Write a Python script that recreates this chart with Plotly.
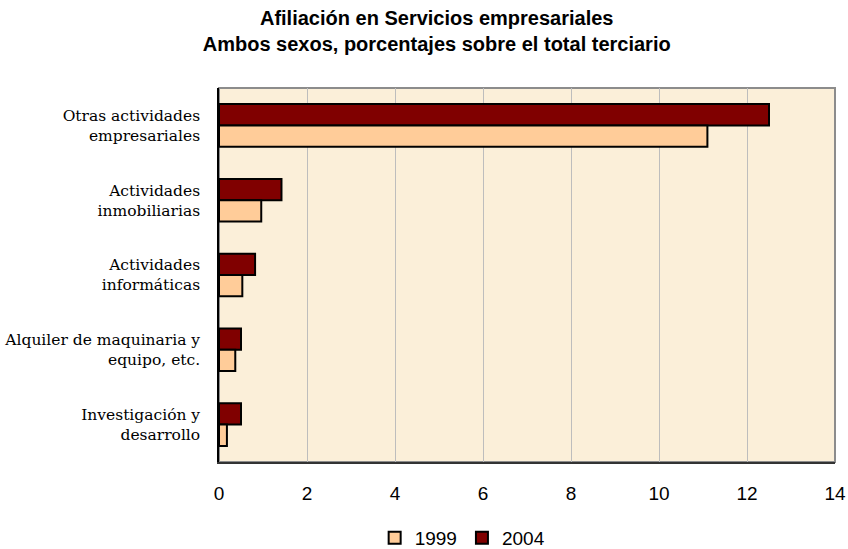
import plotly.graph_objects as go

categories = [
    "Otras actividades<br>empresariales",
    "Actividades<br>inmobiliarias",
    "Actividades<br>informáticas",
    "Alquiler de maquinaria y<br>equipo, etc.",
    "Investigación y<br>desarrollo",
]
values_1999 = [11.1, 0.96, 0.53, 0.37, 0.18]
values_2004 = [12.5, 1.42, 0.82, 0.50, 0.50]
x_ticks = [0, 2, 4, 6, 8, 10, 12, 14]

fig = go.Figure()
fig.add_trace(go.Bar(
    y=categories, x=values_2004, name="2004", orientation="h",
    marker=dict(color="#800000", line=dict(color="#000000", width=2)),
))
fig.add_trace(go.Bar(
    y=categories, x=values_1999, name="1999", orientation="h",
    marker=dict(color="#FFCC99", line=dict(color="#000000", width=2)),
))

fig.update_layout(
    width=848, height=549,
    margin=dict(l=219, r=13, t=88, b=87),
    paper_bgcolor="white",
    plot_bgcolor="#FBEFD9",
    barmode="group",
    bargap=0.43,
    bargroupgap=0,
    title=dict(
        text="Afiliación en Servicios empresariales<br>Ambos sexos, porcentajes sobre el total terciario",
        x=0.515, xanchor="center", y=0.955, yanchor="top",
        font=dict(family="Liberation Sans, Arial", size=20, color="black", weight="bold"),
    ),
    legend=dict(
        orientation="h", xref="container", yref="container",
        x=0.545, xanchor="center", y=0.02, yanchor="middle",
        traceorder="reversed",
        font=dict(family="Liberation Sans, Arial", size=19, color="black"),
        itemwidth=30,
    ),
    showlegend=True,
    font=dict(family="Liberation Sans, Arial", color="black"),
)

fig.update_xaxes(
    range=[0, 14], tickvals=x_ticks, ticktext=[str(v) for v in x_ticks],
    showgrid=True, gridcolor="#BDBDBD", gridwidth=1,
    zeroline=False, showline=True, linecolor="#333333", linewidth=1.5,
    ticks="", ticklabelstandoff=13, automargin=False,
    tickfont=dict(family="Liberation Sans, Arial", size=19, color="black"),
)
fig.update_yaxes(
    autorange="reversed", showgrid=False, zeroline=False,
    showline=True, linecolor="#000000", linewidth=1.5,
    ticks="", ticklabelstandoff=14, automargin=False,
    tickfont=dict(family="DejaVu Serif", size=15.5, color="black"),
)

fig.add_shape(type="rect", xref="paper", yref="paper", x0=0, x1=1, y0=0, y1=1,
              line=dict(color="#8C8C8C", width=2), layer="below")

fig.write_html(
    "out.html",
    config={"displayModeBar": False},
    post_script="document.body.style.margin='0';document.body.style.overflow='hidden';",
)
